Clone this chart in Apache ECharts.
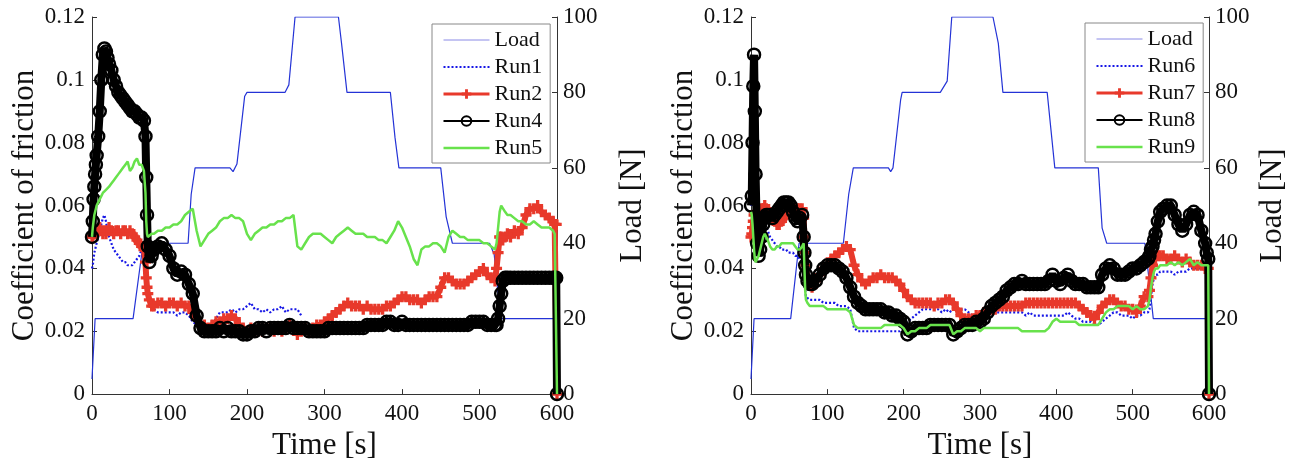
<!DOCTYPE html>
<html>
<head>
<meta charset="utf-8">
<script src="https://cdn.jsdelivr.net/npm/echarts@6/dist/echarts.min.js"></script>
<style>html,body{margin:0;padding:0;background:#fff}#c{width:1305px;height:466px}</style>
</head>
<body>
<div id="c"></div>
<script>
// Shared time samples [s]
const T = [0,1,2,3,4,5,6,8,10,12,14,16,18,20,22,25,28,31,34,37,40,43,46,49,52,55,58,61,64,67,69,70,71,72,74,77,
80,85,90,95,100,105,110,115,120,125,
130,135,140,145,150,155,160,165,170,175,
180,185,190,195,200,205,210,215,220,225,
230,235,240,245,250,255,260,265,270,275,
280,285,290,295,300,305,310,315,320,325,
330,335,340,345,350,355,360,365,370,375,
380,385,390,395,400,405,410,415,420,425,
430,435,440,445,450,455,460,465,470,475,
480,485,490,495,500,505,510,515,520,
522,524,526,528,530,533,536,540,545,550,555,560,565,570,575,580,585,590,595,597,599,600];

// Load profiles [N]
const loadT_L = [0,4,53,66,124,128,133,178,182,187,197,200,249,254,262,318,322,329,385,391,396,450,457,465,513,519,527,599,600];
const loadV_L = [4,20,20,40,40,53,60,60,59,61,79,80,80,82,100,100,93,80,80,68,60,60,47,40,40,37,20,20,0];
const loadT_R = [0,4,52,63,121,128,134,180,183,186,196,198,248,257,263,317,324,330,388,394,398,455,460,466,516,520,527,599,600];
const loadV_R = [4,20,20,40,40,53,60,60,59,60,78,80,80,83,100,100,93,80,80,68,60,60,44,40,40,33,20,20,0];

// Left panel: coefficient of friction
const run1 = [0.040,0.041,0.043,0.045,0.046,0.047,0.048,0.050,0.052,0.054,0.056,0.057,0.055,0.052,0.050,0.048,0.046,0.045,0.044,0.043,0.042,0.042,0.041,0.041,0.041,0.042,0.043,0.044,0.046,0.047,0.045,0.040,0.036,0.033,0.030,0.028,
0.027,0.026,0.026,0.026,0.026,0.026,0.025,0.026,0.026,0.025,
0.023,0.022,0.022,0.022,0.022,0.022,0.024,0.026,0.026,0.026,
0.027,0.026,0.027,0.027,0.028,0.029,0.027,0.027,0.026,0.027,
0.026,0.027,0.027,0.028,0.026,0.027,0.027,0.027,0.025];

const run2 = [0.050,0.050,0.051,0.051,0.052,0.051,0.052,0.052,0.053,0.052,0.051,0.052,0.051,0.052,0.053,0.052,0.051,0.052,0.052,0.051,0.052,0.052,0.051,0.052,0.051,0.050,0.049,0.048,0.047,0.046,0.042,0.037,0.034,0.032,0.030,0.028,
0.028,0.029,0.029,0.028,0.029,0.029,0.028,0.029,0.028,0.028,
0.026,0.024,0.022,0.022,0.021,0.022,0.023,0.023,0.024,0.024,
0.025,0.024,0.022,0.021,0.020,0.021,0.020,0.021,0.020,0.021,
0.021,0.020,0.021,0.020,0.021,0.022,0.021,0.019,0.020,0.021,
0.020,0.021,0.022,0.022,0.023,0.024,0.025,0.026,0.027,0.028,
0.029,0.028,0.028,0.028,0.027,0.028,0.027,0.027,0.027,0.027,
0.028,0.028,0.029,0.030,0.031,0.031,0.030,0.030,0.030,0.029,
0.030,0.031,0.031,0.031,0.034,0.037,0.037,0.036,0.035,0.035,
0.035,0.036,0.037,0.038,0.039,0.040,0.038,0.037,0.036,
0.040,0.045,0.050,0.050,0.049,0.050,0.051,0.050,0.052,0.051,0.053,0.057,0.059,0.059,0.060,0.058,0.057,0.056,0.055,0.054,0.054,0];

const run4 = [0.050,0.055,0.062,0.066,0.070,0.073,0.076,0.082,0.090,0.100,0.108,0.110,0.109,0.107,0.105,0.103,0.100,0.098,0.096,0.095,0.094,0.093,0.092,0.091,0.090,0.090,0.089,0.088,0.088,0.087,0.082,0.069,0.057,0.047,0.042,0.044,
0.046,0.047,0.048,0.046,0.044,0.040,0.038,0.039,0.038,0.035,
0.032,0.025,0.021,0.020,0.020,0.020,0.020,0.021,0.020,0.021,
0.020,0.020,0.020,0.019,0.019,0.020,0.020,0.021,0.021,0.020,
0.021,0.021,0.021,0.021,0.021,0.022,0.021,0.021,0.021,0.021,
0.020,0.020,0.020,0.020,0.020,0.021,0.021,0.021,0.021,0.021,
0.021,0.021,0.021,0.021,0.021,0.022,0.022,0.022,0.022,0.022,
0.023,0.023,0.022,0.022,0.023,0.022,0.022,0.022,0.022,0.022,
0.022,0.022,0.022,0.022,0.022,0.022,0.022,0.022,0.022,0.022,
0.022,0.022,0.023,0.023,0.023,0.023,0.022,0.022,0.022,
0.022,0.024,0.028,0.032,0.036,0.037,0.037,0.037,0.037,0.037,0.037,0.037,0.037,0.037,0.037,0.037,0.037,0.037,0.037,0.037,0.037,0];

const run5 = [0.050,0.053,0.055,0.057,0.058,0.059,0.060,0.061,0.062,0.063,0.064,0.064,0.065,0.065,0.066,0.067,0.068,0.069,0.070,0.071,0.072,0.073,0.074,0.071,0.072,0.074,0.075,0.073,0.073,0.071,0.064,0.055,0.051,0.050,0.050,0.051,
0.051,0.052,0.052,0.053,0.053,0.054,0.054,0.055,0.057,0.058,
0.059,0.052,0.047,0.049,0.051,0.052,0.053,0.055,0.056,0.056,
0.057,0.056,0.056,0.055,0.051,0.049,0.051,0.052,0.053,0.053,
0.054,0.054,0.055,0.055,0.056,0.056,0.057,0.047,0.046,0.048,
0.050,0.051,0.051,0.051,0.050,0.049,0.048,0.050,0.051,0.052,
0.053,0.052,0.051,0.051,0.051,0.050,0.050,0.050,0.049,0.049,
0.048,0.050,0.052,0.055,0.053,0.050,0.047,0.043,0.041,0.046,
0.047,0.047,0.048,0.048,0.047,0.045,0.050,0.052,0.051,0.050,
0.050,0.049,0.049,0.049,0.049,0.048,0.048,0.047,0.046,
0.048,0.053,0.058,0.060,0.060,0.058,0.057,0.057,0.056,0.055,0.055,0.054,0.054,0.055,0.054,0.053,0.053,0.053,0.052,0.051,0.051,0];

// Right panel: coefficient of friction
const run6 = [0.060,0.063,0.065,0.064,0.060,0.056,0.052,0.050,0.051,0.053,0.054,0.054,0.054,0.053,0.052,0.050,0.049,0.048,0.047,0.047,0.046,0.046,0.046,0.045,0.045,0.045,0.044,0.044,0.043,0.043,0.040,0.036,0.033,0.031,0.031,0.030,
0.030,0.030,0.030,0.029,0.029,0.029,0.029,0.028,0.028,0.028,
0.027,0.021,0.020,0.020,0.020,0.020,0.020,0.020,0.020,0.020,
0.020,0.020,0.020,0.020,0.021,0.023,0.024,0.025,0.026,0.027,
0.027,0.027,0.027,0.027,0.026,0.027,0.026,0.027,0.027,0.027,
0.027,0.026,0.025,0.025,0.025,0.025,0.026,0.026,0.026,0.026,
0.026,0.026,0.026,0.026,0.026,0.026,0.025,0.026,0.025,0.025,
0.025,0.025,0.025,0.025,0.025,0.025,0.025,0.026,0.025,0.024,
0.024,0.023,0.023,0.023,0.022,0.022,0.023,0.024,0.025,0.026,
0.026,0.025,0.025,0.025,0.024,0.025,0.025,0.026,0.026,
0.027,0.031,0.035,0.037,0.038,0.038,0.039,0.039,0.039,0.039,0.038,0.039,0.039,0.039,0.040,0.040,0.040,0.040,0.040,0.040,0.040,0];

const run7 = [0.050,0.051,0.053,0.055,0.057,0.058,0.058,0.057,0.056,0.058,0.059,0.059,0.060,0.059,0.058,0.057,0.056,0.055,0.054,0.054,0.055,0.056,0.057,0.058,0.058,0.058,0.059,0.059,0.059,0.059,0.056,0.050,0.045,0.041,0.037,0.035,
0.034,0.036,0.038,0.040,0.041,0.043,0.044,0.045,0.046,0.047,
0.046,0.041,0.038,0.036,0.035,0.036,0.037,0.037,0.038,0.037,
0.037,0.037,0.036,0.035,0.033,0.031,0.030,0.029,0.029,0.029,
0.029,0.029,0.028,0.029,0.029,0.030,0.030,0.029,0.027,0.025,
0.024,0.024,0.024,0.025,0.025,0.026,0.026,0.027,0.027,0.028,
0.028,0.028,0.028,0.028,0.028,0.028,0.029,0.029,0.029,0.029,
0.029,0.029,0.029,0.029,0.029,0.029,0.029,0.029,0.029,0.029,
0.028,0.027,0.026,0.025,0.024,0.026,0.028,0.029,0.030,0.030,
0.029,0.028,0.028,0.027,0.027,0.026,0.028,0.031,0.031,
0.033,0.037,0.041,0.043,0.043,0.044,0.044,0.044,0.043,0.043,0.044,0.043,0.042,0.043,0.042,0.041,0.041,0.041,0.040,0.040,0.040,0];

const run8 = [0.060,0.063,0.080,0.098,0.108,0.090,0.070,0.048,0.044,0.046,0.050,0.054,0.056,0.057,0.057,0.057,0.056,0.057,0.058,0.059,0.060,0.061,0.061,0.061,0.060,0.058,0.056,0.055,0.056,0.057,0.050,0.045,0.041,0.038,0.036,0.035,
0.035,0.036,0.038,0.040,0.041,0.041,0.041,0.040,0.039,0.037,
0.034,0.031,0.029,0.028,0.027,0.027,0.027,0.027,0.027,0.026,
0.026,0.025,0.025,0.024,0.023,0.019,0.020,0.021,0.021,0.021,
0.021,0.022,0.022,0.022,0.022,0.022,0.022,0.019,0.020,0.021,
0.022,0.022,0.022,0.023,0.023,0.024,0.026,0.028,0.029,0.030,
0.031,0.033,0.034,0.035,0.035,0.036,0.035,0.035,0.035,0.035,
0.035,0.035,0.036,0.038,0.036,0.035,0.037,0.038,0.036,0.035,
0.035,0.035,0.034,0.034,0.034,0.034,0.038,0.040,0.041,0.040,
0.038,0.038,0.038,0.039,0.040,0.040,0.041,0.042,0.043,
0.044,0.046,0.047,0.049,0.051,0.055,0.058,0.059,0.060,0.060,0.057,0.054,0.052,0.054,0.057,0.058,0.057,0.052,0.048,0.045,0.043,0];

const run9 = [0.058,0.057,0.054,0.050,0.046,0.043,0.042,0.042,0.044,0.046,0.048,0.050,0.051,0.050,0.049,0.047,0.046,0.046,0.047,0.047,0.048,0.048,0.048,0.048,0.048,0.048,0.047,0.046,0.046,0.047,0.048,0.040,0.033,0.030,0.029,0.028,
0.028,0.028,0.028,0.028,0.027,0.027,0.027,0.027,0.027,0.027,
0.026,0.022,0.021,0.021,0.021,0.021,0.021,0.021,0.021,0.022,
0.022,0.022,0.022,0.022,0.021,0.019,0.020,0.020,0.021,0.021,
0.021,0.022,0.022,0.022,0.022,0.022,0.022,0.019,0.020,0.020,
0.021,0.021,0.021,0.021,0.020,0.021,0.021,0.021,0.021,0.021,
0.021,0.021,0.021,0.021,0.021,0.020,0.020,0.020,0.020,0.020,
0.020,0.020,0.021,0.023,0.024,0.023,0.023,0.023,0.023,0.023,
0.022,0.022,0.022,0.022,0.022,0.022,0.024,0.026,0.027,0.027,
0.028,0.028,0.028,0.028,0.027,0.028,0.027,0.027,0.028,
0.030,0.034,0.037,0.039,0.040,0.040,0.041,0.041,0.041,0.042,0.041,0.042,0.041,0.042,0.043,0.041,0.042,0.041,0.041,0.041,0.041,0];

const FONT = '"Liberation Serif","Times New Roman",serif';
const zip = (xs, ys) => ys.map((v, i) => [xs[i], v]);
const PLUS = 'path://M3.5,0H6.5V3.5H10V6.5H6.5V10H3.5V6.5H0V3.5H3.5Z';

const C_LOAD = '#2433d6', C_BLUE = '#1616e6', C_RED = '#e8392b', C_GREEN = '#68e24c';

function loadSeries(xi, yi, t, v) {
  return { name: 'Load', type: 'line', xAxisIndex: xi, yAxisIndex: yi, data: zip(t, v),
    symbol: 'none', lineStyle: { color: C_LOAD, width: 1.2 }, itemStyle: { color: C_LOAD }, z: 1 };
}
function dotted(name, xi, yi, vals) {
  return { name, type: 'line', xAxisIndex: xi, yAxisIndex: yi, data: zip(T, vals), symbol: 'none',
    lineStyle: { color: C_BLUE, width: 2.2, type: [2, 2] }, itemStyle: { color: C_BLUE }, z: 2 };
}
function plusLine(name, xi, yi, vals) {
  return { name, type: 'line', xAxisIndex: xi, yAxisIndex: yi, data: zip(T, vals),
    symbol: PLUS, symbolSize: 11, showSymbol: true, showAllSymbol: true,
    lineStyle: { color: C_RED, width: 6 }, itemStyle: { color: C_RED }, z: 3 };
}
function circLine(name, xi, yi, vals) {
  return { name, type: 'line', xAxisIndex: xi, yAxisIndex: yi, data: zip(T, vals),
    symbol: 'circle', symbolSize: 12, showSymbol: true, showAllSymbol: true,
    lineStyle: { color: '#000', width: 8 },
    itemStyle: { color: 'rgba(255,255,255,0)', borderColor: '#000', borderWidth: 2.5 }, z: 4 };
}
function greenLine(name, xi, yi, vals) {
  return { name, type: 'line', xAxisIndex: xi, yAxisIndex: yi, data: zip(T, vals), symbol: 'none',
    lineStyle: { color: C_GREEN, width: 2.5 }, itemStyle: { color: C_GREEN }, z: 5 };
}

const axisLine = { show: true, lineStyle: { color: '#333', width: 1 } };
const axisTick = { show: true, inside: true, length: 5, lineStyle: { color: '#333' } };
const lbl = (m) => ({ fontFamily: FONT, fontSize: 23, color: '#111', margin: m });
const nameStyle = { fontFamily: FONT, fontSize: 31, color: '#111' };

function xAx(gi) {
  return { gridIndex: gi, type: 'value', min: 0, max: 600, interval: 100, name: 'Time [s]',
    nameLocation: 'middle', nameGap: 32, nameTextStyle: nameStyle,
    axisLine, axisTick, axisLabel: lbl(8), splitLine: { show: false } };
}
function yFric(gi) {
  return { gridIndex: gi, type: 'value', min: 0, max: 0.12, interval: 0.02, position: 'left',
    name: 'Coefficient of friction', nameLocation: 'middle', nameGap: 49, nameTextStyle: nameStyle,
    axisLine, axisTick, axisLabel: lbl(7), splitLine: { show: false } };
}
function yLoad(gi, gap) {
  return { gridIndex: gi, type: 'value', min: 0, max: 100, interval: 20, position: 'right',
    name: 'Load [N]', nameLocation: 'middle', nameGap: gap, nameTextStyle: nameStyle,
    axisLine, axisTick, axisLabel: lbl(6), splitLine: { show: false } };
}
const noSym = { opacity: 0 };
function legend(left, top, names) {
  return { left, top, orient: 'vertical', itemWidth: 46, itemHeight: 12, itemGap: 5,
    data: [
      { name: names[0], itemStyle: noSym, lineStyle: { width: 1, color: '#8a8ae6' } },
      { name: names[1], itemStyle: noSym, lineStyle: { width: 2.2 } },
      { name: names[2], lineStyle: { width: 3 } },
      { name: names[3], lineStyle: { width: 2 } },
      { name: names[4], itemStyle: noSym, lineStyle: { width: 2.5 } }
    ],
    padding: [5, 8, 4, 10], borderColor: '#888', borderWidth: 1, backgroundColor: '#fff',
    textStyle: { fontFamily: FONT, fontSize: 22, color: '#111' }, selectedMode: false };
}

const chart = echarts.init(document.getElementById('c'), null, { renderer: 'canvas' });
chart.setOption({
  animation: false,
  backgroundColor: '#fff',
  grid: [
    { left: 92, width: 465, top: 17, height: 383 },
    { left: 751, width: 458, top: 17, height: 383 }
  ],
  xAxis: [xAx(0), xAx(1)],
  yAxis: [yFric(0), yLoad(0, 60), yFric(1), yLoad(1, 48)],
  legend: [
    legend(432, 24, ['Load', 'Run1', 'Run2', 'Run4', 'Run5']),
    legend(1085, 23, ['Load', 'Run6', 'Run7', 'Run8', 'Run9'])
  ],
  series: [
    loadSeries(0, 1, loadT_L, loadV_L),
    dotted('Run1', 0, 0, run1),
    plusLine('Run2', 0, 0, run2),
    circLine('Run4', 0, 0, run4),
    greenLine('Run5', 0, 0, run5),
    loadSeries(1, 3, loadT_R, loadV_R),
    dotted('Run6', 1, 2, run6),
    plusLine('Run7', 1, 2, run7),
    circLine('Run8', 1, 2, run8),
    greenLine('Run9', 1, 2, run9)
  ]
});
</script>
</body>
</html>
